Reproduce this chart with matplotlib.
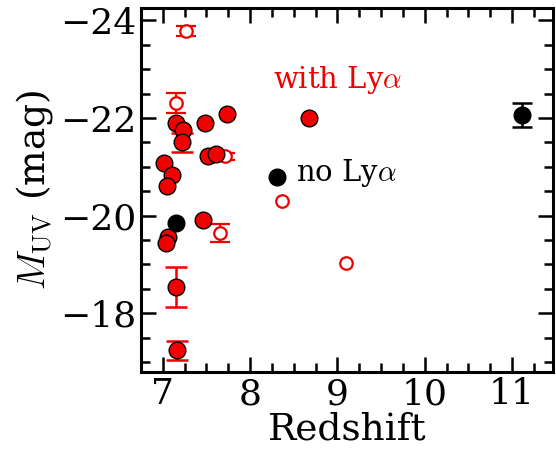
import matplotlib

matplotlib.use("Agg")
import matplotlib.pyplot as plt
from matplotlib.ticker import MultipleLocator
import numpy as np

plt.rcParams["font.family"] = ["DejaVu Serif"]
plt.rcParams["mathtext.fontset"] = "cm"

# Lya detected (filled red)
lya_z = [7.15, 7.23, 7.22, 7.48, 7.73, 7.52, 7.61, 7.01, 7.11, 7.05, 7.46, 7.06, 7.04, 7.15, 7.16, 8.68]
lya_m = [-21.90, -21.76, -21.50, -21.90, -22.08, -21.22, -21.26, -21.08, -20.84, -20.60,
         -19.92, -19.57, -19.45, -18.53, -17.24, -22.00]
lya_err = [0, 0, 0.20, 0, 0, 0, 0, 0, 0, 0, 0, 0, 0, 0.41, 0.20, 0]

# Lya, other sample (open red)
open_z = [7.27, 7.15, 7.71, 7.65, 8.37, 9.10]
open_m = [-23.78, -22.31, -21.22, -19.65, -20.31, -19.04]
open_err = [0.10, 0.20, 0.07, 0.18, 0, 0]

# no Lya (filled black)
nolya_z = [7.15, 8.31, 11.12]
nolya_m = [-19.84, -20.80, -22.06]
nolya_err = [0, 0, 0.25]

RED = "#f00000"


def with_err(z, m, err):
    z, m, err = np.asarray(z), np.asarray(m), np.asarray(err)
    keep = err > 0
    return z[keep], m[keep], err[keep]


fig = plt.figure(figsize=(5.56, 4.53), dpi=100)
ax = fig.add_axes([0.2536, 0.179, 0.741, 0.803])

ez, em, ee = with_err(open_z, open_m, open_err)
ax.errorbar(ez, em, yerr=ee, fmt="none", ecolor=RED, elinewidth=1.6,
            capsize=7, capthick=1.6, zorder=2)
ax.plot(open_z, open_m, "o", ms=9, mfc="white", mec=RED, mew=1.6, zorder=2.5)

ez, em, ee = with_err(lya_z, lya_m, lya_err)
ax.errorbar(ez, em, yerr=ee, fmt="none", ecolor=RED, elinewidth=1.8,
            capsize=8, capthick=1.8, zorder=3)
ax.plot(lya_z, lya_m, "o", ms=12, mfc=RED, mec="black", mew=1.0, zorder=4)

ez, em, ee = with_err(nolya_z, nolya_m, nolya_err)
ax.errorbar(ez, em, yerr=ee, fmt="none", ecolor="black", elinewidth=1.8,
            capsize=7, capthick=1.8, zorder=5)
ax.plot(nolya_z, nolya_m, "o", ms=12, mfc="black", mec="black", zorder=5)

ax.text(9.0, -22.78, r"with Ly$\alpha$", color=RED, fontsize=21, ha="center", va="center")
ax.text(8.52, -20.88, r"no Ly$\alpha$", color="black", fontsize=21, ha="left", va="center")

ax.set_xlim(6.75, 11.47)
ax.set_ylim(-16.8, -24.25)
ax.xaxis.set_major_locator(MultipleLocator(1))
ax.xaxis.set_minor_locator(MultipleLocator(0.25))
ax.yaxis.set_major_locator(MultipleLocator(2))
ax.yaxis.set_minor_locator(MultipleLocator(0.5))
ax.tick_params(which="both", direction="in", top=True, right=True, width=1.8, labelsize=26)
ax.tick_params(which="major", length=11)
ax.tick_params(axis="x", which="major", pad=4)
ax.tick_params(axis="y", which="major", pad=3)
ax.tick_params(which="minor", length=6.5)
for spine in ax.spines.values():
    spine.set_linewidth(2.2)

ax.set_xlabel("Redshift", fontsize=27, labelpad=0)
ax.set_ylabel(r"$M_{\rm UV}$ (mag)", fontsize=27, labelpad=4)

fig.savefig("out.png", dpi=100)
